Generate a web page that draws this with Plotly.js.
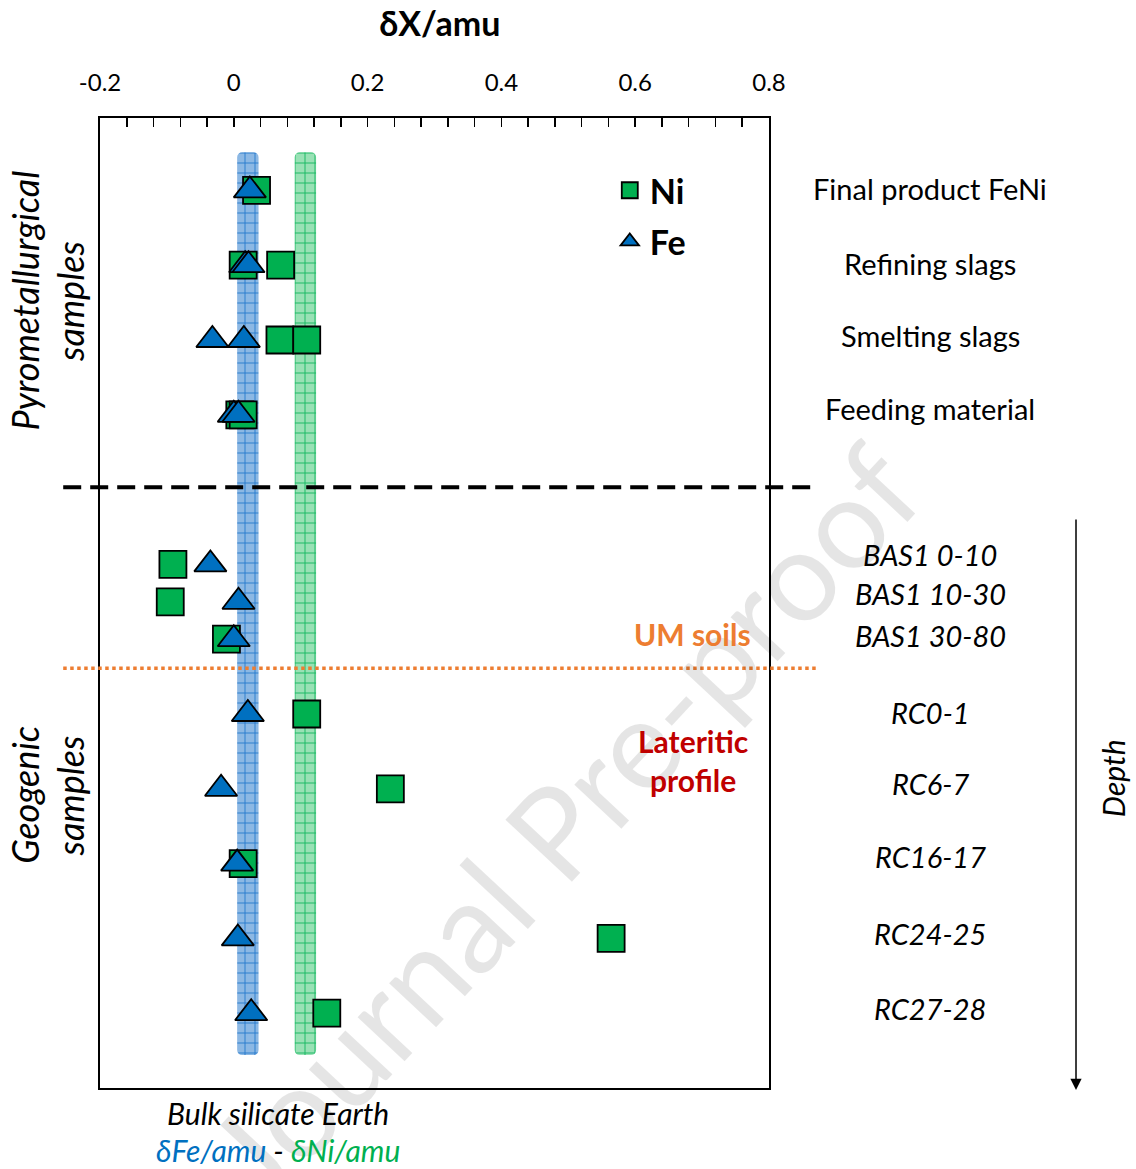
<!DOCTYPE html>
<html>
<head>
<meta charset="utf-8">
<script src="https://cdn.plot.ly/plotly-3.0.1.min.js"></script>
<style>html,body{margin:0;padding:0;background:#fff;}#chart{width:1136px;height:1169px;}</style>
</head>
<body>
<div id="chart"></div>
<script>
// ---- Data ----
const samples = ['Final product FeNi','Refining slags','Smelting slags','Feeding material',
  'BAS1 0-10','BAS1 10-30','BAS1 30-80','RC0-1','RC6-7','RC16-17','RC24-25','RC27-28'];
const sampleRow = [12, 11, 10, 9, 7, 6.5, 6, 5, 4, 3, 2, 1];
const italicSamples = ['BAS1 0-10','BAS1 10-30','BAS1 30-80','RC0-1','RC6-7','RC16-17','RC24-25','RC27-28'];

// delta Ni / amu
const niSample = ['Final product FeNi','Refining slags','Refining slags','Smelting slags','Smelting slags',
  'Feeding material','Feeding material','BAS1 0-10','BAS1 10-30','BAS1 30-80','RC0-1','RC6-7','RC16-17','RC24-25','RC27-28'];
const niValue = [0.034, 0.014, 0.070, 0.069, 0.109, 0.009, 0.014, -0.091, -0.095, -0.011, 0.109, 0.234, 0.014, 0.564, 0.139];

// delta Fe / amu
const feSample = ['Final product FeNi','Refining slags','Refining slags','Smelting slags','Smelting slags',
  'Feeding material','Feeding material','BAS1 0-10','BAS1 10-30','BAS1 30-80','RC0-1','RC6-7','RC16-17','RC24-25','RC27-28'];
const feValue = [0.024, 0.017, 0.022, -0.032, 0.015, 0.000, 0.007, -0.035, 0.007, 0.000, 0.021, -0.019, 0.005, 0.006, 0.026];

// Bulk silicate Earth ranges (delta/amu)
const bseFe = [0.005, 0.037];
const bseNi = [0.091, 0.123];

const xTicks = [-0.2, 0, 0.2, 0.4, 0.6, 0.8];
const xTickText = ['-0.2', '0', '0.2', '0.4', '0.6', '0.8'];

// ---- Helpers / layout ----
const rowOf = s => sampleRow[samples.indexOf(s)];
const FONT = "Lato, 'Open Sans', sans-serif";
const bandBottom = 0.44, bandTop = 12.51;
const labelShift = [2, 2, 5, 6, 10, 8, 4, 2, 5, 7, 5, 5]; // px, label nudges

function band(range, fill, line) {
  return {
    type: 'bar', orientation: 'v',
    x: [(range[0] + range[1]) / 2], y: [bandTop - bandBottom], base: [bandBottom],
    width: [range[1] - range[0]],
    marker: {color: fill, line: {width: 0}, cornerradius: 5,
      pattern: {shape: '+', size: 10, solidity: 0.18, fgcolor: line, bgcolor: fill, fillmode: 'replace'}},
    showlegend: false, hoverinfo: 'skip'
  };
}

const traces = [
  band(bseFe, 'rgba(120,172,224,0.85)', 'rgba(20,110,200,0.85)'),
  band(bseNi, 'rgba(135,220,168,0.85)', 'rgba(0,176,80,0.85)'),
  {
    type: 'scatter', mode: 'markers', name: 'Ni', legendgroup: 'ni',
    x: niValue, y: niSample.map(rowOf),
    marker: {symbol: 'square', size: 27, color: '#00B050', line: {color: '#000', width: 1.8}}
  },
  {
    type: 'scatter', mode: 'markers', name: 'Fe', legendgroup: 'fe',
    x: feValue, y: feSample.map(rowOf),
    marker: {symbol: 'triangle-up', size: 28, color: '#0070C0', line: {color: '#000', width: 1.8}}
  }
];

const annotations = [];
// watermark
annotations.push({
  text: 'Journal Pre-proof', xref: 'paper', yref: 'paper', x: 0.69, y: 0.275,
  xanchor: 'center', yanchor: 'middle',
  showarrow: false, textangle: -47, font: {family: FONT, size: 127, color: 'rgba(0,0,0,0.1)'}
});
// sample labels on right
samples.forEach((s, i) => {
  const it = italicSamples.includes(s);
  annotations.push({
    text: s, xref: 'paper', yref: 'y', x: 1.2407, y: sampleRow[i], yshift: labelShift[i],
    xanchor: 'center', yanchor: 'middle',
    showarrow: false, font: {family: FONT, size: 29, color: '#000', style: it ? 'italic' : 'normal'}
  });
});
const C = {xanchor: 'center', yanchor: 'middle', showarrow: false};
annotations.push(
  Object.assign({text: 'UM soils', xref: 'paper', yref: 'y', x: 0.886, y: 6.07,
   font: {family: FONT, size: 30, color: '#ED7D31', weight: 'bold'}}, C),
  Object.assign({text: 'Lateritic<br>profile', xref: 'paper', yref: 'y', x: 0.886, y: 4.38,
   font: {family: FONT, size: 30, color: '#C00000', weight: 'bold'}}, C),
  Object.assign({text: 'Pyrometallurgical', xref: 'paper', yref: 'y', x: -0.112, y: 10.53,
   textangle: -90, font: {family: FONT, size: 36, color: '#000', style: 'italic'}}, C),
  Object.assign({text: 'samples', xref: 'paper', yref: 'y', x: -0.045, y: 10.52,
   textangle: -90, font: {family: FONT, size: 36, color: '#000', style: 'italic'}}, C),
  Object.assign({text: 'Geogenic', xref: 'paper', yref: 'y', x: -0.112, y: 3.92,
   textangle: -90, font: {family: FONT, size: 36, color: '#000', style: 'italic'}}, C),
  Object.assign({text: 'samples', xref: 'paper', yref: 'y', x: -0.045, y: 3.91,
   textangle: -90, font: {family: FONT, size: 36, color: '#000', style: 'italic'}}, C),
  Object.assign({text: 'Depth', xref: 'paper', yref: 'y', x: 1.514, y: 4.14,
   textangle: -90, font: {family: FONT, size: 30, color: '#000', style: 'italic'}}, C),
  {text: '', xref: 'paper', yref: 'paper', x: 1.4589, y: -0.002, ax: 0, ay: -572,
   showarrow: true, arrowhead: 2, arrowsize: 1.5, arrowwidth: 1.5, arrowcolor: '#000'},
  Object.assign({text: 'Bulk silicate Earth', xref: 'paper', yref: 'paper', x: 0.266, y: -0.026,
   font: {family: FONT, size: 30, color: '#000', style: 'italic'}}, C),
  Object.assign({text: '<span style="color:#0070C0">δFe/amu</span> - <span style="color:#00B050">δNi/amu</span>',
   xref: 'paper', yref: 'paper', x: 0.266, y: -0.064,
   font: {family: FONT, size: 30, color: '#000', style: 'italic'}}, C)
);

const layout = {
  width: 1136, height: 1169,
  margin: {l: 100, r: 367, t: 118, b: 81},
  paper_bgcolor: '#fff', plot_bgcolor: '#fff',
  font: {family: FONT, color: '#000'},
  title: {text: '<b>δX/amu</b>', xref: 'paper', x: 0.508, xanchor: 'center', yref: 'container', y: 0.979, yanchor: 'middle',
    font: {family: FONT, size: 34, color: '#000'}},
  barmode: 'overlay',
  xaxis: {
    range: [-0.2, 0.8], side: 'top', tickvals: xTicks, ticktext: xTickText,
    ticks: 'inside', ticklen: 9, tickwidth: 1.5, tickcolor: '#000',
    minor: {dtick: 0.04, tick0: -0.2, ticks: 'inside', ticklen: 9, tickwidth: 1.5, tickcolor: '#000'},
    showgrid: false, zeroline: false, showline: true, mirror: true, linecolor: '#000', linewidth: 2,
    tickfont: {family: FONT, size: 24, color: '#000'}, ticklabelstandoff: 15, fixedrange: true
  },
  yaxis: {
    range: [0, 12.968], showticklabels: false, ticks: '', showgrid: false, zeroline: false,
    showline: true, mirror: true, linecolor: '#000', linewidth: 2, fixedrange: true
  },
  legend: {x: 0.762, y: 0.955, xanchor: 'left', yanchor: 'top', bgcolor: 'rgba(0,0,0,0)',
    font: {family: FONT, size: 34, color: '#000', weight: 'bold'}, itemwidth: 30,
    traceorder: 'grouped', tracegroupgap: 4},
  shapes: [
    {type: 'line', xref: 'paper', yref: 'y', x0: -0.055, x1: 1.064, y0: 8.03, y1: 8.03,
     line: {color: '#000', width: 4, dash: '18px,9px'}},
    {type: 'line', xref: 'paper', yref: 'y', x0: -0.055, x1: 1.073, y0: 5.61, y1: 5.61,
     line: {color: '#ED7D31', width: 3.5, dash: 'dot'}}
  ],
  annotations: annotations,
  hovermode: false
};

Plotly.newPlot('chart', traces, layout, {staticPlot: true, displayModeBar: false});
</script>
</body>
</html>
